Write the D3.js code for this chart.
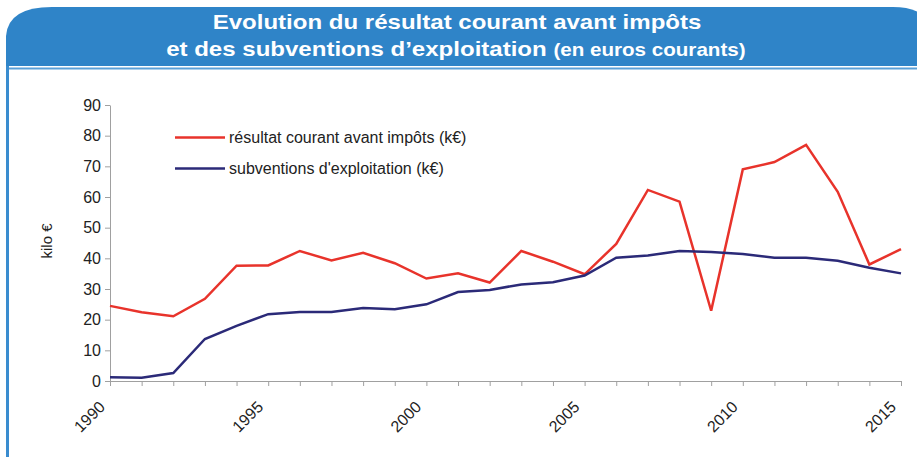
<!DOCTYPE html>
<html lang="fr">
<head>
<meta charset="UTF-8">
<script src="https://d3js.org/d3.v7.min.js"></script>
<title>Evolution du résultat courant</title>
<style>
    body { margin: 0; background: #fff; }
    text { font-family: "Liberation Sans", Arial, sans-serif; }
</style>
</head>
<body>
<svg id="chart" width="917" height="457"></svg>
<script>
    // values (k€)
    const years = d3.range(1990, 2016);
    const resultat = [24.5, 22.4, 21.1, 26.8, 37.6, 37.7, 42.4, 39.3, 41.8, 38.4,
        33.4, 35.1, 32.1, 42.4, 38.9, 34.8, 44.7, 62.3, 58.5, 22.9,
        69.0, 71.4, 77.0, 61.7, 38.0, 43.0];
    const subventions = [1.2, 1.1, 2.6, 13.7, 18.0, 21.8, 22.5, 22.5, 23.8, 23.4,
        25.0, 29.0, 29.7, 31.5, 32.2, 34.4, 40.2, 40.9, 42.4, 42.1,
        41.4, 40.2, 40.2, 39.2, 36.9, 35.1];
    const yTicks = [0, 10, 20, 30, 40, 50, 60, 70, 80, 90];
    const xLabels = [1990, 1995, 2000, 2005, 2010, 2015];
    const seriesNames = ["résultat courant avant impôts (k€)", "subventions d'exploitation (k€)"];
    const seriesColors = ["#e8332b", "#2b2a78"];

    const svg = d3.select("#chart");
    const headerBlue = "#2f84c8";

    // header band, rounded top corners
    svg.append("path")
        .attr("d", "M6,66 L6,36 Q8,7 52,7 L893,7 Q925,7 935,30 L935,66 Z")
        .attr("fill", headerBlue);
    svg.append("line")
        .attr("x1", 6).attr("x2", 917).attr("y1", 68.5).attr("y2", 68.5)
        .attr("stroke", "#5aa0d8").attr("stroke-width", 2);
    svg.append("line")
        .attr("x1", 7.5).attr("x2", 7.5).attr("y1", 66).attr("y2", 457)
        .attr("stroke", "#3a8ccf").attr("stroke-width", 3);

    // title, slightly widened like the original
    const title = svg.append("g")
        .attr("transform", "translate(457,0) scale(1.145,1)")
        .attr("fill", "#fff").attr("font-weight", "bold");
    title.append("text")
        .attr("y", 29).attr("text-anchor", "middle").attr("font-size", 21)
        .text("Evolution du résultat courant avant impôts");
    const t2 = title.append("text")
        .attr("x", -1).attr("y", 56).attr("text-anchor", "middle").attr("font-size", 21);
    t2.append("tspan").text("et des subventions d’exploitation ");
    t2.append("tspan").attr("font-size", 18).text("(en euros courants)");

    const x = d3.scaleLinear().domain([1990, 2015]).range([110, 901]);
    const y = d3.scaleLinear().domain([0, 90]).range([381, 105]);

    // y axis
    const yAxis = svg.append("g")
        .attr("transform", "translate(110,0)")
        .call(d3.axisLeft(y).tickValues(yTicks).tickSize(5).tickPadding(4).tickSizeOuter(0));
    yAxis.select(".domain").attr("stroke", "#a0a0a0");
    yAxis.selectAll(".tick line").attr("stroke", "#a0a0a0");
    yAxis.selectAll(".tick text")
        .attr("font-size", 16).attr("fill", "#222")
        .attr("font-family", "Liberation Sans, Arial, sans-serif");

    // x axis
    const xAxis = svg.append("g")
        .attr("transform", "translate(0,381)")
        .call(d3.axisBottom(x).tickValues(years).tickSize(5).tickSizeOuter(0).tickFormat(""));
    xAxis.select(".domain").attr("stroke", "#a0a0a0");
    xAxis.selectAll(".tick line").attr("stroke", "#a0a0a0");

    svg.append("g").selectAll("text")
        .data(xLabels)
        .join("text")
        .attr("transform", d => `translate(${x(d) - 4},${408}) rotate(-45)`)
        .attr("text-anchor", "end")
        .attr("font-size", 16).attr("fill", "#222")
        .text(d => d);

    svg.append("text")
        .attr("transform", "translate(52,241) rotate(-90)")
        .attr("text-anchor", "middle")
        .attr("font-size", 15).attr("fill", "#222")
        .text("kilo €");

    // lines
    const line = d3.line().x((d, i) => x(years[i])).y(d => y(d));
    [resultat, subventions].forEach((s, k) => {
        svg.append("path")
            .datum(s)
            .attr("fill", "none")
            .attr("stroke", seriesColors[k])
            .attr("stroke-width", 2.5)
            .attr("d", line);
    });

    // legend
    const legend = svg.append("g").selectAll("g")
        .data(seriesNames)
        .join("g")
        .attr("transform", (d, i) => `translate(175,${137.5 + i * 31})`);
    legend.append("line")
        .attr("x1", 0).attr("x2", 50)
        .attr("stroke", (d, i) => seriesColors[i]).attr("stroke-width", 2.5);
    legend.append("text")
        .attr("x", 54).attr("dy", "0.35em")
        .attr("font-size", 16).attr("fill", "#222")
        .text(d => d);
</script>
</body>
</html>
